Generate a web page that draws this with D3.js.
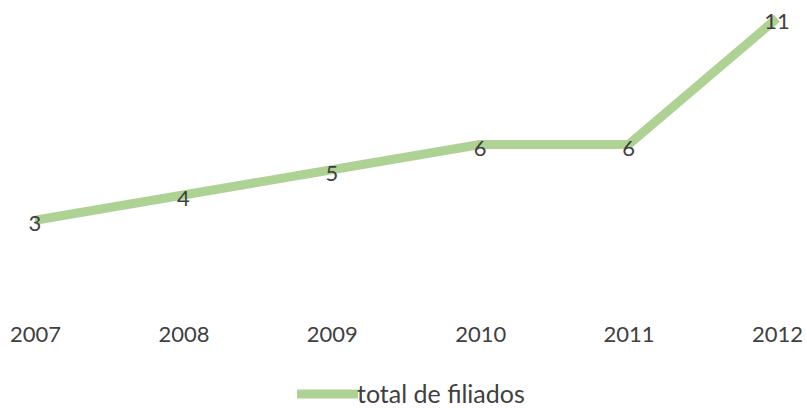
<!DOCTYPE html>
<html>
<head>
<meta charset="utf-8">
<script src="https://cdn.jsdelivr.net/npm/d3@7"></script>
<style>
  body { margin: 0; background: #fff; }
  text { font-family: Lato, "Open Sans", sans-serif; fill: #404040; }
</style>
</head>
<body>
<svg id="chart" width="807" height="408"></svg>
<script>
const years = ["2007", "2008", "2009", "2010", "2011", "2012"];
const filiados = [3, 4, 5, 6, 6, 11];
const seriesName = "total de filiados";
const lineColor = "#aed293";

const svg = d3.select("#chart");

const x = d3.scalePoint().domain(years).range([35, 777]);
const y = d3.scaleLinear().domain([0, 12]).range([296, -7]);

// x axis labels only, no line or ticks
const xAxis = svg.append("g")
  .attr("transform", "translate(0,342)")
  .call(d3.axisBottom(x).tickSize(0).tickPadding(0));
xAxis.select(".domain").remove();
xAxis.selectAll("text")
  .attr("y", 0)
  .attr("dy", 0)
  .style("font-size", "22px")
  .style("font-family", "Lato, 'Open Sans', sans-serif")
  .attr("fill", "#404040");

const points = years.map((d, i) => ({ year: d, value: filiados[i] }));

const line = d3.line()
  .x(d => x(d.year))
  .y(d => y(d.value));

svg.append("path")
  .datum(points)
  .attr("d", line)
  .attr("fill", "none")
  .attr("stroke", lineColor)
  .attr("stroke-width", 9)
  .attr("stroke-linejoin", "round");

// data labels centered on the points
svg.append("g")
  .selectAll("text")
  .data(points)
  .join("text")
  .attr("x", d => x(d.year))
  .attr("y", d => y(d.value) + 11)
  .attr("text-anchor", "middle")
  .style("font-size", "22px")
  .text(d => d.value);

// legend
const legend = svg.append("g").attr("transform", "translate(297,394)");
legend.append("line")
  .attr("x1", 0)
  .attr("x2", 61)
  .attr("stroke", lineColor)
  .attr("stroke-width", 9);
legend.append("text")
  .attr("x", 60)
  .attr("y", 9)
  .style("font-size", "25px")
  .text(seriesName);
</script>
</body>
</html>
